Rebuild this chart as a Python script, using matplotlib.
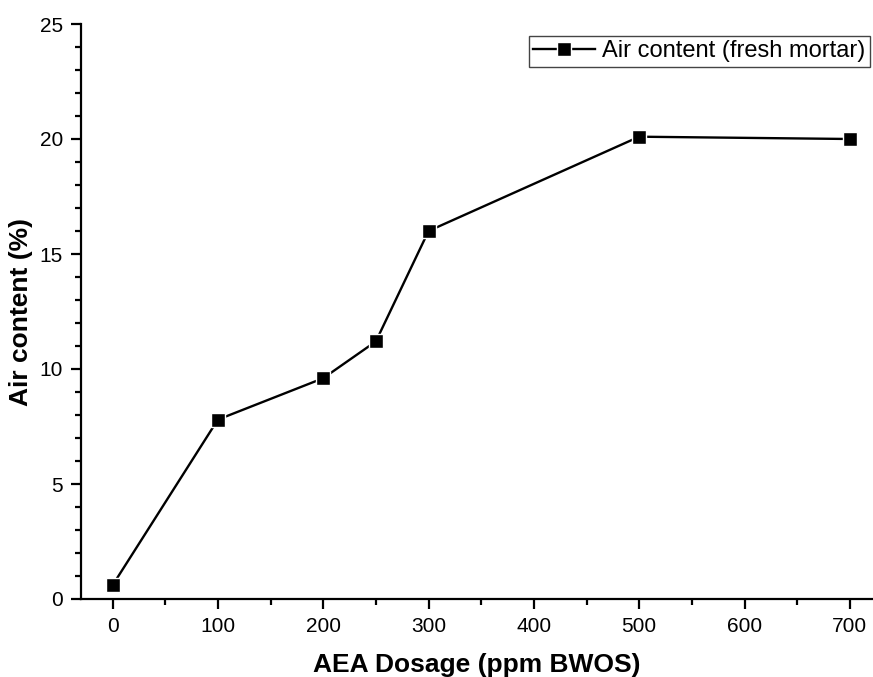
import matplotlib.pyplot as plt
from matplotlib.ticker import MultipleLocator

plt.rcParams['font.family'] = ['Liberation Sans', 'DejaVu Sans']

dosage = [0, 100, 200, 250, 300, 500, 700]
air_content = [0.6, 7.8, 9.6, 11.2, 16.0, 20.1, 20.0]

fig = plt.figure(figsize=(8.73, 6.77), dpi=100)
ax = fig.add_axes([81 / 873, 1 - 599 / 677, 1 - 81 / 873, (599 - 24) / 677])

ax.plot(dosage, air_content, color='black', lw=1.7, marker='s', markersize=10,
        markerfacecolor='black', markeredgecolor='white', markeredgewidth=1.0,
        label='Air content (fresh mortar)')

ax.set_xlim(-30, 722)
ax.set_ylim(0, 25)
ax.xaxis.set_major_locator(MultipleLocator(100))
ax.xaxis.set_minor_locator(MultipleLocator(50))
ax.yaxis.set_major_locator(MultipleLocator(5))
ax.yaxis.set_minor_locator(MultipleLocator(1))

for side in ['top', 'right']:
    ax.spines[side].set_visible(False)
for side in ['left', 'bottom']:
    ax.spines[side].set_linewidth(1.6)

ax.tick_params(which='major', direction='out', length=7, width=1.6, labelsize=15, pad=6)
ax.tick_params(which='minor', direction='out', length=4, width=1.6)

ax.set_xlabel('AEA Dosage (ppm BWOS)', fontsize=19, fontweight='bold', labelpad=12)
ax.set_ylabel('Air content (%)', fontsize=19, fontweight='bold', labelpad=5)

leg = ax.legend(loc='upper right', bbox_to_anchor=(0.996, 0.98), fontsize=17,
                fancybox=False, framealpha=1, edgecolor='#444444',
                handlelength=2.6, handletextpad=0.3, borderpad=0.2, borderaxespad=0)
leg.get_frame().set_linewidth(1.0)

fig.savefig('out.png', dpi=100)
